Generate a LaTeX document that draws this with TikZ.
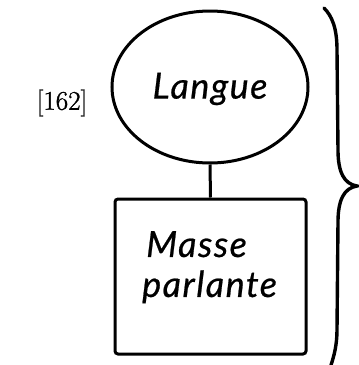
\documentclass[tikz,border=0pt]{standalone}
\usepackage{fontspec}
\newfontfamily\hand{Lato}[LetterSpace=4,FakeBold=0.6]
\newfontfamily\numfont{Latin Modern Roman}[FakeBold=1.2]
\usetikzlibrary{shapes.geometric}
\tikzset{
  ink/.style={line width=3pt, black},
  handtext/.style={font=\hand\itshape\fontsize{36}{40}\selectfont, inner sep=0pt},
}
\begin{document}
\begin{tikzpicture}[x=1pt,y=-1pt]
\useasboundingbox (0,0) rectangle (359,365);
\node[font=\numfont\fontsize{27}{30}\selectfont, inner sep=0pt] (num) at (62,103) {[162]};
\node[ink, draw, ellipse, minimum width=196pt, minimum height=152pt, inner sep=0pt] (langue) at (210,87) {};
\node[handtext] (ltext) at (210,89) {Langue};
\node[ink, draw, rectangle, rounded corners=3pt, minimum width=191pt, minimum height=155pt, inner sep=0pt] (masse) at (210.5,276.5) {};
\node[handtext, align=left, anchor=north west] (mtext) at (142,231) {\hspace*{4pt}Masse\\parlante};
\draw[ink] (langue.south) -- (masse.north);
\coordinate (bt) at (324,8);
\coordinate (bm) at (357,186);
\coordinate (bb) at (331,365);
\draw[line width=3.4pt, line cap=round] (bt) .. controls (332,16) and (337,28) .. (337,50)
  -- (338,150) .. controls (338,172) and (344,184) .. (bm)
  .. controls (344,188) and (338,200) .. (338,222)
  -- (337,330) .. controls (337,345) and (334,356) .. (bb);
\end{tikzpicture}
\end{document}
